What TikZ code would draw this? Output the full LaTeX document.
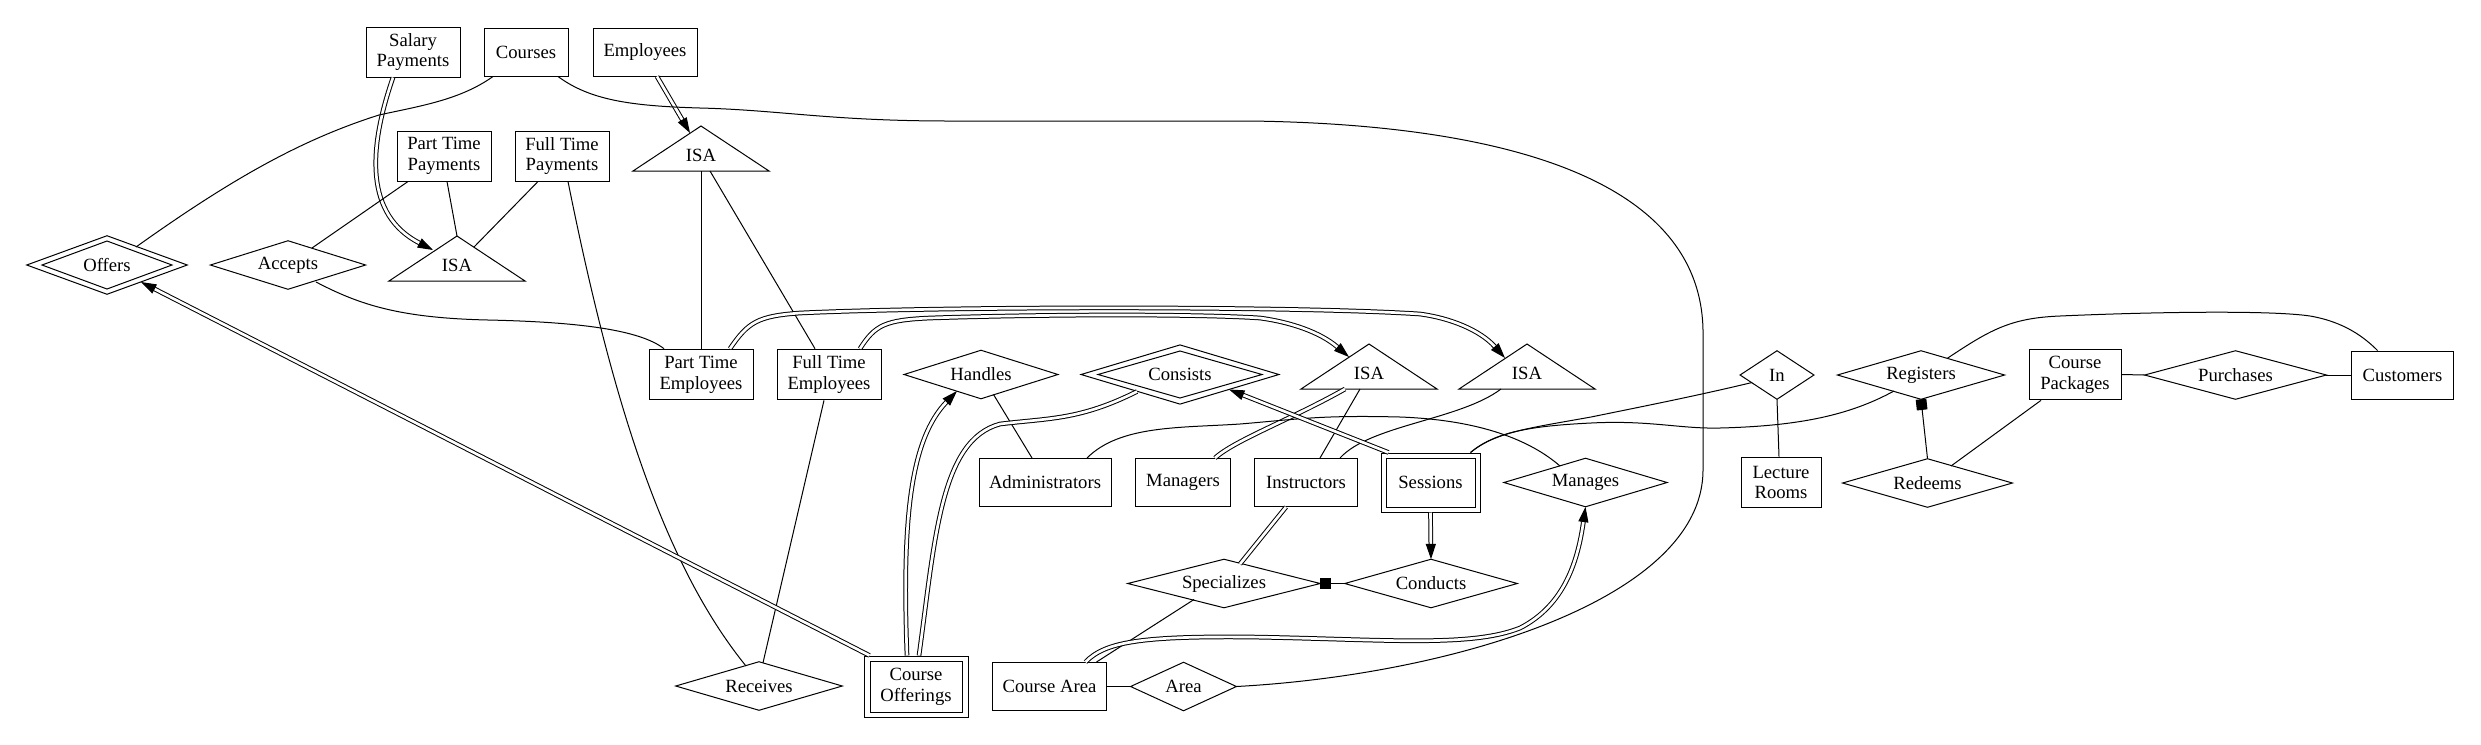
\documentclass[tikz,border=0pt]{standalone}
\usepackage{fontspec}
\setmainfont{Liberation Serif}
\usetikzlibrary{arrows.meta,calc}
\begin{document}
\begin{tikzpicture}[x=0.75pt,y=-0.75pt,
  every node/.style={font=\fontsize{14}{15.5}\selectfont, align=center, inner sep=0pt},
  bx/.style 2 args={draw, line width=0.75pt, minimum width=#1, minimum height=#2},
  rl/.style 2 args={minimum width=#1, minimum height=#2},
  sl/.style={line width=0.75pt},
  dl/.style={double, double distance=2pt, line width=0.75pt},
  arr/.style={-{Triangle[length=11.5pt,width=7.5pt]}},
  sq/.style={-{Square[length=8pt,width=8pt]}}]
\useasboundingbox (0,0) rectangle (2481,744);
% nodes
\node[bx={70.5pt}{37.5pt}] (sal) at (413,52) {Salary\\Payments};
\node[bx={63pt}{36pt}] (courses) at (526,52) {Courses};
\node[bx={78pt}{36pt}] (emp) at (645,52) {Employees};
\node[bx={70.5pt}{37.5pt}] (ptp) at (444,156) {Part Time\\Payments};
\node[bx={70.5pt}{37.5pt}] (ftp) at (562,156) {Full Time\\Payments};
\node (isa0) at (701,155) {ISA};
\node (isap) at (457,265) {ISA};
\node[rl={120pt}{43.5pt}] (offers) at (107,265) {Offers};
\node[rl={116pt}{36pt}] (accepts) at (288,265) {Accepts};
\node[bx={78pt}{38pt}] (pte) at (701,374.5) {Part Time\\Employees};
\node[bx={78pt}{38pt}] (fte) at (829,374.5) {Full Time\\Employees};
\node[rl={115pt}{36pt}] (handles) at (981,374.5) {Handles};
\node[rl={148pt}{44pt}] (consists) at (1180,374.5) {Consists};
\node (isa1) at (1369,373) {ISA};
\node (isa2) at (1527,373) {ISA};
\node[rl={55pt}{36pt}] (inrel) at (1777,375) {In};
\node[rl={125pt}{36pt}] (registers) at (1921,375) {Registers};
\node[bx={69pt}{38pt}] (cpack) at (2075,374.5) {Course\\Packages};
\node[rl={136pt}{36pt}] (purchases) at (2235.5,375) {Purchases};
\node[bx={77pt}{36pt}] (customers) at (2402.5,375) {Customers};
\node[bx={99pt}{36pt}] (admin) at (1045,482.5) {Administrators};
\node[bx={71pt}{36pt}] (managers) at (1183,482.5) {Managers};
\node[bx={77pt}{36pt}] (instructors) at (1306,482.5) {Instructors};
\node[bx={74.25pt}{44.25pt}] (sessions) at (1430.5,482.5) {Sessions};
\node[rl={122pt}{36pt}] (manages) at (1585.5,482.5) {Manages};
\node[bx={60pt}{38pt}] (lrooms) at (1781,482.5) {Lecture\\Rooms};
\node[rl={127pt}{36pt}] (redeems) at (1927.5,483) {Redeems};
\node[rl={144pt}{36pt}] (specializes) at (1224,583.5) {Specializes};
\node[rl={129pt}{36pt}] (conducts) at (1431,583.5) {Conducts};
\node[rl={124.5pt}{36pt}] (receives) at (759,686) {Receives};
\node[bx={78pt}{45.75pt}] (coff) at (916,686.5) {Course\\Offerings};
\node[bx={86pt}{36pt}] (carea) at (1049.5,686.5) {Course Area};
\node[rl={79pt}{36pt}] (area) at (1183.5,686.5) {Area};
% shapes
\foreach \n in {offers,accepts,handles,consists,inrel,registers,purchases,manages,redeems,specializes,conducts,receives,area}
  \draw[sl] (\n.north) -- (\n.east) -- (\n.south) -- (\n.west) -- cycle;
\draw[sl,shift={(offers.center)}] (0,-24) -- (65,0) -- (0,24) -- (-65,0) -- cycle;
\draw[sl,shift={(consists.center)}] (0,-23.5) -- (82,0) -- (0,23.5) -- (-82,0) -- cycle;
\foreach \n in {isa0,isap,isa1,isa2}
  \draw[sl,shift={(\n.center)}] (0,-29) -- (68,16) -- (-68,16) -- cycle;
\draw[sl,shift={(sessions.center)}] (-44.5,-24.5) rectangle (44.5,24.5);
\draw[sl,shift={(coff.center)}] (-46,-25.5) rectangle (46,25.5);
% edges
\draw[dl,arr] ($(sal.south)+(-20,0)$) .. controls (368,150) and (365,215) .. ($(isap)+(-24,-15)$);
\draw[sl] ($(ptp.south)+(3,0)$) -- ($(isap)+(0,-29)$);
\draw[sl] ($(ftp.south)+(-24,0)$) -- ($(isap)+(17,-18)$);
\draw[sl] ($(ptp.south)+(-36,0)$) -- ($(accepts)+(24,-17)$);
\draw[sl] ($(accepts)+(28,17)$) .. controls (360,305) and (400,318) .. (488,320) .. controls (580,322) and (640,330) .. ($(pte.north)+(-37,0)$);
\draw[sl] ($(ftp.south)+(6,0)$) .. controls (610,390) and (660,560) .. ($(receives)+(-13,-20)$);
\draw[sl] ($(fte.south)+(-5,0)$) -- ($(receives.north)+(4,1)$);
\draw[sl] ($(courses.south)+(-33,0)$) .. controls (460,100) and (420,106) .. (379,115) .. controls (300,140) and (230,180) .. ($(offers)+(29,-18)$);
\draw[dl,arr] ($(emp.south)+(12,0)$) -- ($(isa0)+(-11,-22)$);
\draw[sl] ($(isa0)+(0,16)$) -- (pte.north);
\draw[sl] ($(isa0)+(9,16)$) -- ($(fte.north)+(-14,0)$);
\draw[dl,arr] ($(pte.north)+(29,0)$) .. controls (748,322) and (758,316) .. (800,313) .. controls (950,306) and (1300,306) .. (1420,314) .. controls (1450,318) and (1480,330) .. ($(isa2)+(-22,-15)$);
\draw[dl,arr] ($(fte.north)+(31,0)$) .. controls (875,325) and (885,320) .. (930,318) .. controls (1050,314) and (1200,314) .. (1260,318) .. controls (1290,322) and (1320,332) .. ($(isa1)+(-20,-16)$);
\draw[dl] ($(isa1)+(-24,16)$) .. controls (1290,420) and (1235,440) .. ($(managers.north)+(32,0)$);
\draw[sl] ($(isa1)+(-9,16)$) -- ($(instructors.north)+(14,0)$);
\draw[sl] ($(isa2)+(-26,16)$) .. controls (1460,420) and (1370,425) .. ($(instructors.north)+(34,0)$);
\draw[sl] ($(admin.north)+(42,0)$) .. controls (1120,425) and (1180,428) .. (1240,424) .. controls (1300,419) and (1320,415) .. (1400,417) .. controls (1480,420) and (1530,440) .. ($(manages)+(-25.5,-16.5)$);
\draw[sl] ($(handles)+(12.5,20)$) -- ($(admin.north)+(-13,0)$);
\draw[dl,arr] ($(coff.north)+(-9,0)$) .. controls (902,520) and (910,440) .. ($(handles)+(-24,16.5)$);
\draw[dl] ($(coff.north)+(3,0)$) .. controls (935,540) and (940,440) .. (1000,424) .. controls (1050,418) and (1080,420) .. ($(consists)+(-43,17)$);
\draw[dl,arr] ($(sessions.north west)+(8,0)$) -- ($(consists)+(49,15)$);
\draw[dl,arr] (sessions.south) -- (conducts.north);
\draw[dl] ($(instructors.south)+(-20,0)$) -- ($(specializes)+(16,-19.5)$);
\draw[sl] ($(specializes)+(-30,16)$) -- ($(carea.north)+(47,0)$);
\draw[dl,arr] ($(carea.north)+(36,0)$) .. controls (1105,642) and (1140,636) .. (1250,637) .. controls (1380,639) and (1470,648) .. (1520,628) .. controls (1565,605) and (1578,560) .. (manages.south);
\draw[sl,sq] (conducts.west) -- (specializes.east);
\draw[sl,sq] (redeems.north) -- (registers.south);
\draw[sl] ($(redeems)+(23.5,-17)$) -- ($(cpack.south)+(-34,0)$);
\draw[sl] (cpack.east) -- (purchases.west);
\draw[sl] (purchases.east) -- (customers.west);
\draw[sl] ($(registers)+(26,-16.5)$) .. controls (1990,330) and (2010,318) .. (2060,316) .. controls (2150,312) and (2270,310) .. (2310,316) .. controls (2345,322) and (2365,338) .. ($(customers.north)+(-25,0)$);
\draw[sl] ($(sessions.north east)+(-10,0)$) .. controls (1495,432) and (1530,428) .. (1591,417) .. controls (1650,405) and (1700,395) .. ($(inrel)+(-25,7.5)$);
\draw[sl] ($(sessions.north east)+(-10,0)$) .. controls (1495,432) and (1530,426) .. (1591,423) .. controls (1650,420) and (1680,429) .. (1720,428) .. controls (1800,426) and (1850,415) .. ($(registers)+(-27,16)$);
\draw[sl] (inrel.south) -- ($(lrooms.north)+(-2,0)$);
\draw[sl] (carea.east) -- (area.west);
\draw[sl] ($(courses.south)+(32,0)$) .. controls (590,100) and (630,106) .. (700,108) .. controls (780,110) and (830,121) .. (950,121) -- (1250,121) .. controls (1480,124) and (1700,170) .. (1703,330) -- (1703,470) .. controls (1703,600) and (1450,675) .. (area.east);
\draw[dl,arr] ($(coff.north west)+(6,0)$) -- ($(offers)+(34,17)$);
\end{tikzpicture}
\end{document}
